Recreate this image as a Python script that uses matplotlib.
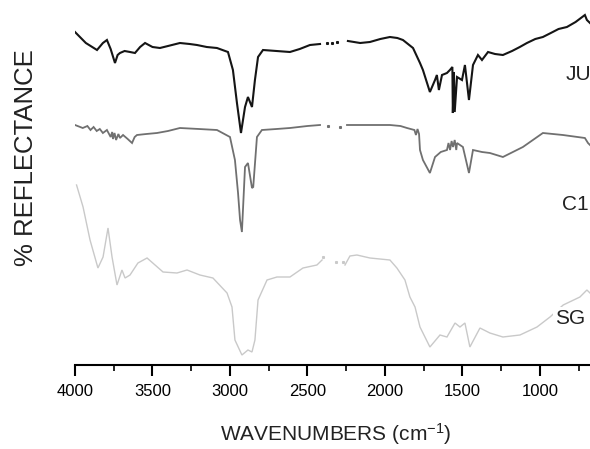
import numpy as np
import matplotlib
matplotlib.use("Agg")
import matplotlib.pyplot as plt

plt.rcParams['font.family'] = ['Liberation Sans', 'DejaVu Sans']
plt.rcParams['mathtext.fontset'] = 'custom'
plt.rcParams['mathtext.rm'] = 'Liberation Sans'
plt.rcParams['mathtext.default'] = 'regular'

nan = np.nan

# ---- JU spectrum (wavenumber, reflectance a.u.) ----
ju_wn = [4000, 3930, 3858, 3820, 3794, 3770, 3742, 3725, 3710, 3680, 3645, 3613, 3580, 3548,
         3500, 3452, 3400, 3323, 3260, 3213, 3150, 3084, 3013, 2981, 2955, 2929, 2903,
         2884, 2858, 2839, 2819, 2787, 2700, 2613, 2550, 2484, 2419, nan,
         2239, 2160, 2097, 2030, 1968, 1920, 1884, 1819, 1774, 1755, 1710, 1677, 1665, 1652,
         1632, 1600, 1581, 1565, 1562, 1555, 1550, 1535, 1503, 1484, 1458, 1432, 1400,
         1374, 1335, 1290, 1239, 1180, 1130, 1084, 1030, 981, 930, 880, 826, 770, 710, 697, 677]
ju_r = [333, 322, 315, 322, 325, 316, 302, 310, 312, 314, 313, 312, 318, 322,
        318, 317, 319, 322, 321, 320, 318, 317, 313, 295, 262, 232, 258,
        268, 258, 285, 308, 315, 314, 313, 316, 320, 321, nan,
        324, 322, 323, 326, 328, 327, 325, 317, 302, 295, 273, 285, 290, 275,
        290, 292, 295, 298, 252, 293, 253, 288, 285, 300, 265, 300, 310,
        305, 313, 311, 310, 314, 318, 322, 326, 328, 332, 336, 338, 343, 350, 345, 342]
ju_dot_wn = [2374, 2342, 2310]
ju_dot_r = [322, 322, 323]

# ---- C1 spectrum ----
c1_wn = [4000, 3950, 3920, 3900, 3880, 3860, 3840, 3820, 3794, 3770, 3760, 3755, 3745,
         3735, 3720, 3710, 3690, 3660, 3632, 3615, 3600, 3540, 3471, 3400, 3323, 3200,
         3084, 3000, 2968, 2948, 2935, 2923, 2903, 2884, 2858, 2850, 2826, 2794, 2700,
         2613, 2500, 2419, nan, 2245, 2100, 1968, 1900, 1858, 1810, 1800, 1790, 1780,
         1774, 1755, 1710, 1677, 1640, 1600, 1590, 1580, 1570, 1561, 1550, 1540, 1535,
         1497, 1458, 1432, 1374, 1323, 1239, 1110, 981, 852, 710, 690, 677]
c1_r = [240, 237, 239, 235, 238, 234, 236, 232, 235, 228, 233, 226, 232,
        225, 231, 227, 230, 226, 222, 228, 230, 231, 232, 234, 237, 236,
        235, 228, 205, 172, 145, 133, 198, 202, 177, 178, 228, 235, 236,
        237, 239, 240, nan, 240, 240, 240, 239, 237, 235, 230, 236, 231,
        215, 205, 192, 208, 213, 215, 222, 215, 224, 218, 225, 215, 222,
        218, 192, 215, 213, 212, 208, 218, 232, 230, 227, 222, 220]
c1_dot_wn = [2368, 2290]
c1_dot_r = [239, 238]

# ---- SG spectrum ----
sg_wn = [3990, 3948, 3903, 3852, 3819, 3787, 3761, 3729, 3697, 3677, 3645, 3594, 3535,
         3432, 3342, 3277, 3194, 3110, 3019, 2987, 2968, 2923, 2884, 2858, 2839, 2819,
         2761, 2697, 2613, 2529, 2439, 2406, nan, 2258, 2226, 2181, 2097, 1968, 1923,
         1871, 1839, 1806, 1774, 1710, 1645, 1600, 1548, 1516, 1484, 1452, 1387, 1323,
         1239, 1129, 1019, 935, 850, 742, 697, 677]
sg_r = [180, 158, 125, 97, 108, 137, 108, 80, 95, 87, 90, 102, 107,
        93, 92, 95, 90, 87, 72, 58, 25, 10, 15, 13, 25, 65,
        85, 88, 88, 97, 100, 105, nan, 100, 109, 110, 107, 105, 97,
        85, 68, 58, 38, 18, 30, 28, 42, 38, 42, 18, 37, 32,
        28, 30, 38, 48, 60, 68, 75, 72]
sg_dot_wn = [2400, 2316, 2271]
sg_dot_r = [108, 103, 103]

labels = ['JU', 'C1', 'SG']
label_wn = [754, 774, 806]
label_r = [290, 161, 47]
colors = ['#151515', '#707070', '#c9c9c9']

xticks = [4000, 3500, 3000, 2500, 2000, 1500, 1000]

fig = plt.figure(figsize=(5.9, 4.49), dpi=100)
ax = fig.add_axes([75/590, (449-365)/449, 515/590, 365/449])

series = [(ju_wn, ju_r, ju_dot_wn, ju_dot_r, 1.5),
          (c1_wn, c1_r, c1_dot_wn, c1_dot_r, 1.3),
          (sg_wn, sg_r, sg_dot_wn, sg_dot_r, 1.0)]
for (wn, r, dwn, dr, lw), col in zip(series, colors):
    ax.plot(wn, r, color=col, lw=lw, solid_joinstyle='miter')
    ax.plot(dwn, dr, ls='none', marker='s', ms=1.2, color=col)

for lab, lx, ly in zip(labels, label_wn, label_r):
    ax.text(lx, ly, lab, fontsize=15, ha='center', va='center', color='#222222',
            bbox=dict(facecolor='white', edgecolor='none', pad=1.0), zorder=5)

ax.set_xlim(4000, 677)
ax.set_ylim(0, 365)
ax.set_xticks(xticks)
ax.set_xticklabels([str(t) for t in xticks])
ax.set_xticks(np.arange(3750, 677, -500), minor=True)
ax.set_yticks([])
for s in ['left', 'top', 'right']:
    ax.spines[s].set_visible(False)
ax.spines['bottom'].set_linewidth(1.5)
ax.tick_params(axis='x', which='major', length=8, width=1.5, pad=6, labelsize=12)
ax.tick_params(axis='x', which='minor', length=4, width=1.2)
ax.patch.set_alpha(0)

fig.text(26/590, 1-158/449, '% REFLECTANCE', rotation=90, fontsize=18.5,
         ha='center', va='center', color='#222222')
fig.text(336/590, 1-434/449, 'WAVENUMBERS (cm$^{-1}$)', fontsize=15,
         ha='center', va='center', color='#222222')

fig.savefig('out.png', dpi=100)
